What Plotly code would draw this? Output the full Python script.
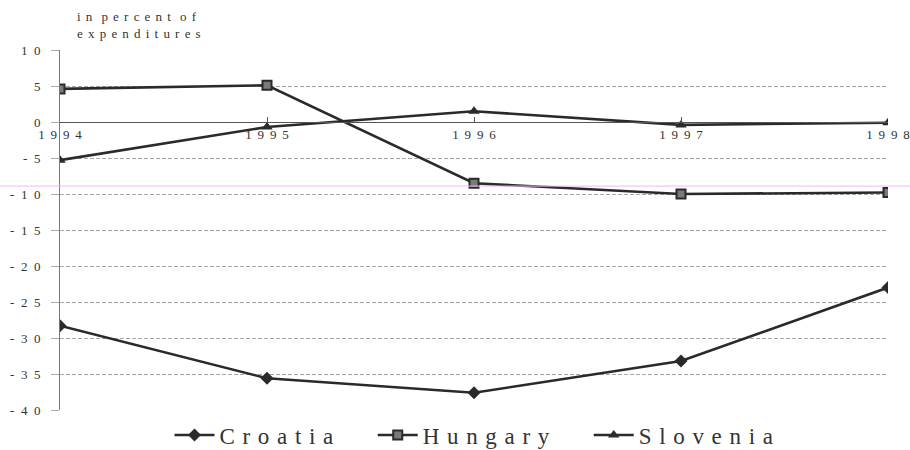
import plotly.graph_objects as go

years = ["1994", "1995", "1996", "1997", "1998"]
croatia = [-28.3, -35.6, -37.6, -33.2, -23.0]
hungary = [4.6, 5.1, -8.5, -10.0, -9.8]
slovenia = [-5.3, -0.7, 1.5, -0.4, -0.1]
y_ticks = [10, 5, 0, -5, -10, -15, -20, -25, -30, -35, -40]
series_names = ["Croatia", "Hungary", "Slovenia"]
title_lines = ["in percent of", "expenditures"]

EN = "\u2002"
THIN = "\u2009"
HAIR = "\u200a"


def spaced(text, gap, word_gap):
    return word_gap.join(gap.join(list(w)) for w in text.split(" "))


def y_label(v):
    digits = spaced(str(abs(v)), EN, EN)
    return ("-" + EN + digits) if v < 0 else digits


year_labels = [spaced(y, " " + THIN, " ") for y in years]
y_tick_labels = [y_label(v) for v in y_ticks]

FONT = "Liberation Serif, Times New Roman, serif"
LINE = "#2a2a2a"
TXT = "#333333"

fig = go.Figure()
styles = [
    dict(symbol="diamond", size=10, color=LINE),
    dict(symbol="square", size=9, color="#7a7a7a", line=dict(color=LINE, width=2)),
    dict(symbol="triangle-up", size=10, color=LINE),
]
trail = [EN * 3, EN * 3, ""]
for name, vals, mk, tr in zip(series_names, [croatia, hungary, slovenia], styles, trail):
    fig.add_trace(go.Scatter(x=years, y=vals, name=spaced(name, " " + HAIR, "  ") + tr,
                             mode="lines+markers",
                             line=dict(color=LINE, width=2.6), marker=mk))

fig.update_layout(
    width=910, height=450,
    margin=dict(l=60, r=22, t=50, b=40, autoexpand=False),
    paper_bgcolor="white", plot_bgcolor="white",
    font=dict(family=FONT, color=TXT),
    showlegend=True,
    legend=dict(orientation="h", x=0.5, xanchor="center", y=-0.01, yanchor="top",
                font=dict(family=FONT, size=23, color=TXT),
                itemwidth=40, tracegroupgap=0),
    xaxis=dict(type="category", categoryorder="array", categoryarray=years,
               range=[0, 4], tickvals=years, ticktext=year_labels,
               anchor="free", position=0.8, automargin=False,
               showline=True, linecolor="#555555", linewidth=1,
               ticks="inside", ticklen=5, tickcolor="#555555",
               showgrid=False, zeroline=False,
               tickfont=dict(family=FONT, size=13, color=TXT)),
    yaxis=dict(range=[-40, 10], tickvals=y_ticks, ticktext=y_tick_labels,
               automargin=False, ticklabelstandoff=8,
               showline=True, linecolor="#777777", linewidth=1,
               ticks="outside", ticklen=8, tickcolor="#aaaaaa",
               showgrid=True, gridcolor="#a8a8a8", gridwidth=1, griddash="4px,2px",
               zeroline=False,
               tickfont=dict(family=FONT, size=13, color=TXT)),
)

fig.add_annotation(text="<br>".join(spaced(t, THIN + THIN, EN + THIN) for t in title_lines),
                   xref="paper", yref="paper", x=0.018, y=1.02, xanchor="left", yanchor="bottom",
                   showarrow=False, align="left",
                   font=dict(family=FONT, size=13, color=TXT))

# faint magenta scan line across the page
fig.add_shape(type="line", xref="paper", yref="paper", x0=-0.08, x1=1.03, y0=0.622, y1=0.622,
              line=dict(color="#f0b8ef", width=1))

fig.write_html("out.html", config={"displayModeBar": False},
               post_script="document.body.style.margin='0';document.body.style.overflow='hidden';")
